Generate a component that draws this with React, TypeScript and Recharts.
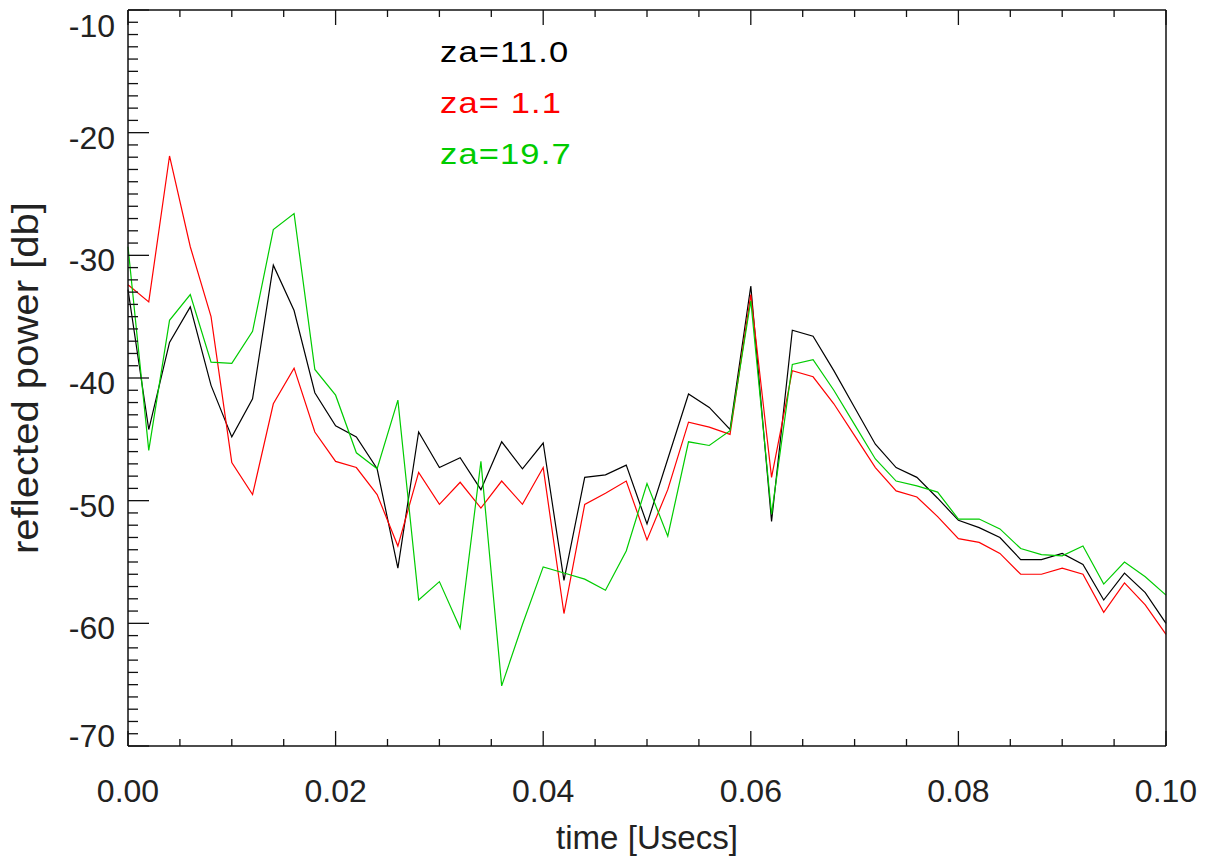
import { LineChart, Line, XAxis, YAxis, Legend } from 'recharts'

// time samples [Usecs]
const TIME = [
  0, 0.002, 0.004, 0.006, 0.008, 0.01, 0.012, 0.014, 0.016, 0.018,
  0.02, 0.022, 0.024, 0.026, 0.028, 0.03, 0.032, 0.034, 0.036, 0.038,
  0.04, 0.042, 0.044, 0.046, 0.048, 0.05, 0.052, 0.054, 0.056, 0.058,
  0.06, 0.062, 0.064, 0.066, 0.068, 0.07, 0.072, 0.074, 0.076, 0.078,
  0.08, 0.082, 0.084, 0.086, 0.088, 0.09, 0.092, 0.094, 0.096, 0.098,
  0.1,
]

// reflected power [db] per zenith angle
const ZA_11 = [
  -32.8, -44.2, -37.1, -34.2, -40.6, -44.8, -41.7, -30.8, -34.5, -41.2,
  -43.9, -44.8, -47.4, -55.5, -44.4, -47.3, -46.5, -49.1, -45.2, -47.4,
  -45.3, -56.5, -48.1, -47.9, -47.1, -51.9, -46.6, -41.3, -42.4, -44.2,
  -32.5, -51.7, -36.1, -36.6, -39.4, -42.4, -45.4, -47.3, -48.1, -49.8,
  -51.6, -52.2, -53.0, -54.8, -54.8, -54.3, -55.2, -58.1, -55.9, -57.5,
  -60.0,
]
const ZA_1 = [
  -32.4, -33.8, -21.9, -29.3, -35.0, -46.9, -49.5, -42.1, -39.2, -44.4,
  -46.8, -47.3, -49.5, -53.7, -47.7, -50.3, -48.5, -50.6, -48.4, -50.3,
  -47.3, -59.2, -50.3, -49.4, -48.4, -53.2, -49.1, -43.6, -44.0, -44.6,
  -33.2, -48.1, -39.4, -39.9, -42.1, -44.7, -47.3, -49.2, -49.7, -51.3,
  -53.1, -53.4, -54.3, -56.0, -56.0, -55.5, -56.0, -59.1, -56.7, -58.5,
  -60.9,
]
const ZA_19 = [
  -29.3, -45.9, -35.3, -33.2, -38.7, -38.8, -36.2, -27.9, -26.6, -39.3,
  -41.4, -46.1, -47.4, -41.8, -58.1, -56.6, -60.4, -46.8, -65.1, -60.1,
  -55.4, -55.9, -56.4, -57.3, -54.1, -48.6, -52.9, -45.2, -45.5, -44.3,
  -33.7, -51.1, -38.9, -38.5, -41.0, -43.8, -46.6, -48.4, -48.8, -49.3,
  -51.5, -51.5, -52.3, -53.9, -54.4, -54.5, -53.7, -56.8, -55.0, -56.2,
  -57.7,
]

const NAMES = ['za=11.0', 'za= 1.1', 'za=19.7']

const X_TICKS = [
  0, 0.005, 0.01, 0.015, 0.02, 0.025, 0.03, 0.035, 0.04, 0.045, 0.05,
  0.055, 0.06, 0.065, 0.07, 0.075, 0.08, 0.085, 0.09, 0.095, 0.1,
]
const Y_TICKS = Array.from({ length: 61 }, (_, i) => -70 + i)

const data = TIME.map((t, i) => ({ t, a: ZA_11[i], b: ZA_1[i], c: ZA_19[i] }))

const W = 1213
const H = 861
const LEFT = 128
const RIGHT = 1166
const TOP = 10
const BOTTOM = 746
const YW = 110
const XH = 100

const FONT = '"Liberation Sans", Arial, Helvetica, sans-serif'
const INK = '#222'
const AXIS = '#111'

const isMajorX = (v: number) => Math.round(v * 1000) % 20 === 0
const isMajorY = (v: number) => Math.round(v) % 10 === 0

function LeftTick(props: any) {
  const { y, payload } = props
  const v = payload.value
  const major = isMajorY(v)
  const ty = Math.min(Math.max(y + 16, TOP + 27), BOTTOM + 1)
  return (
    <g>
      <line x1={LEFT} x2={LEFT + (major ? 21 : 10)} y1={y} y2={y} stroke={AXIS} strokeWidth={1.3} />
      {major && (
        <text x={LEFT - 13} y={ty} textAnchor="end" fontSize={32} fontFamily={FONT} fill={INK}>
          {v}
        </text>
      )}
    </g>
  )
}

function RightTick(props: any) {
  const { y, payload } = props
  const major = isMajorY(payload.value)
  return <line x1={RIGHT} x2={RIGHT - (major ? 21 : 10)} y1={y} y2={y} stroke={AXIS} strokeWidth={1.3} />
}

function BottomTick(props: any) {
  const { x, payload } = props
  const v = payload.value
  const major = isMajorX(v)
  return (
    <g>
      <line x1={x} x2={x} y1={BOTTOM} y2={BOTTOM - (major ? 15 : 7)} stroke={AXIS} strokeWidth={1.3} />
      {major && (
        <text x={x} y={802} textAnchor="middle" fontSize={32} fontFamily={FONT} fill={INK}>
          {v.toFixed(2)}
        </text>
      )}
    </g>
  )
}

function TopTick(props: any) {
  const { x, payload } = props
  const major = isMajorX(payload.value)
  return <line x1={x} x2={x} y1={TOP} y2={TOP + (major ? 15 : 7)} stroke={AXIS} strokeWidth={1.3} />
}

function XTitle() {
  return (
    <text x={(LEFT + RIGHT) / 2} y={849} textAnchor="middle" fontSize={33} fontFamily={FONT} fill={INK}
      textLength={182} lengthAdjust="spacingAndGlyphs">
      time [Usecs]
    </text>
  )
}

function YTitle() {
  const cy = (TOP + BOTTOM) / 2
  return (
    <text x={38} y={cy} transform={`rotate(-90 38 ${cy})`} textAnchor="middle" fontSize={36} fontFamily={FONT}
      fill={INK} textLength={352} lengthAdjust="spacingAndGlyphs">
      reflected power [db]
    </text>
  )
}

function LegendBox({ payload }: any) {
  const items = [...(payload || [])].sort((p: any, q: any) => NAMES.indexOf(p.value) - NAMES.indexOf(q.value))
  return (
    <div style={{ fontFamily: FONT, fontSize: 30, lineHeight: '51px', letterSpacing: 1, transform: 'scaleX(1.15)', transformOrigin: 'left top' }}>
      {items.map((p: any) => (
        <div key={p.value} style={{ color: p.color, whiteSpace: 'pre' }}>
          {p.value}
        </div>
      ))}
    </div>
  )
}

export default function App() {
  return (
    <div style={{ position: 'absolute', left: 0, top: 0, width: W, height: H, background: '#fff' }}>
      <LineChart
        width={W}
        height={H}
        data={data}
        margin={{ top: TOP - 1, right: W - RIGHT - 1, bottom: H - BOTTOM - XH, left: LEFT - YW }}
      >
        <XAxis
          xAxisId="b"
          dataKey="t"
          type="number"
          domain={[0, 0.1]}
          ticks={X_TICKS}
          interval={0}
          height={XH}
          tickLine={false}
          axisLine={{ stroke: AXIS, strokeWidth: 1.5 }}
          tick={<BottomTick />}
          label={<XTitle />}
        />
        <XAxis
          xAxisId="t"
          orientation="top"
          dataKey="t"
          type="number"
          domain={[0, 0.1]}
          ticks={X_TICKS}
          interval={0}
          height={1}
          tickLine={false}
          axisLine={{ stroke: AXIS, strokeWidth: 1.5 }}
          tick={<TopTick />}
        />
        <YAxis
          yAxisId="l"
          type="number"
          domain={[-70, -10]}
          ticks={Y_TICKS}
          interval={0}
          width={YW}
          tickLine={false}
          axisLine={{ stroke: AXIS, strokeWidth: 1.5 }}
          tick={<LeftTick />}
          label={<YTitle />}
        />
        <YAxis
          yAxisId="r"
          orientation="right"
          type="number"
          domain={[-70, -10]}
          ticks={Y_TICKS}
          interval={0}
          width={1}
          tickLine={false}
          axisLine={{ stroke: AXIS, strokeWidth: 1.5 }}
          tick={<RightTick />}
        />
        <Legend
          layout="vertical"
          align="center"
          verticalAlign="middle"
          wrapperStyle={{ left: 440, top: 26, width: 220 }}
          content={<LegendBox />}
        />
        <Line xAxisId="b" yAxisId="l" type="linear" dataKey="a" name="za=11.0" stroke="#000000" strokeWidth={1.2} dot={false} isAnimationActive={false} />
        <Line xAxisId="b" yAxisId="l" type="linear" dataKey="b" name="za= 1.1" stroke="#ff0000" strokeWidth={1.2} dot={false} isAnimationActive={false} />
        <Line xAxisId="b" yAxisId="l" type="linear" dataKey="c" name="za=19.7" stroke="#00cc00" strokeWidth={1.2} dot={false} isAnimationActive={false} />
      </LineChart>
    </div>
  )
}
